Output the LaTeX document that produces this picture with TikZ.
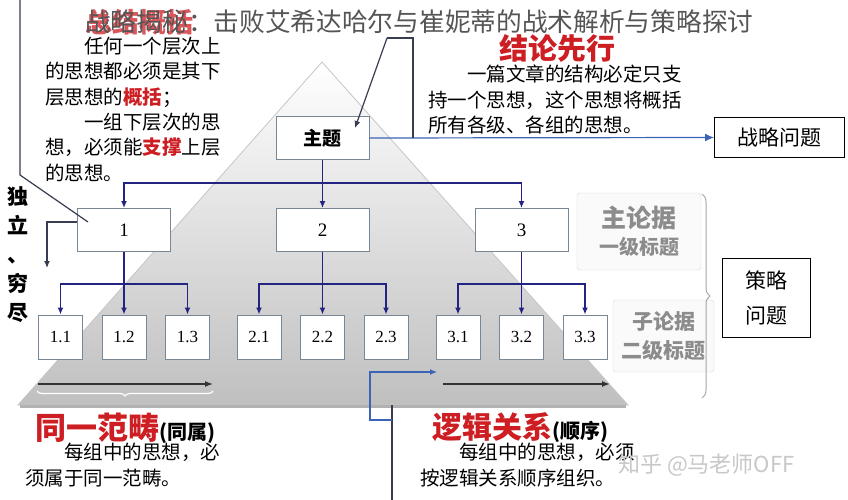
\documentclass[tikz,border=0pt]{standalone}
\usepackage{fontspec}
\setmainfont{Liberation Serif}
\newfontfamily\cjk{Noto Sans CJK SC}
\usepackage{tikz}
\usetikzlibrary{arrows.meta, decorations.pathreplacing, calc, positioning}

\definecolor{linkblue}{RGB}{35,35,130}
\definecolor{boxline}{RGB}{120,135,150}
\definecolor{headred}{RGB}{205,30,35}
\definecolor{tipblue}{RGB}{60,100,180}
\definecolor{darkline}{RGB}{55,60,80}
\definecolor{titlegray}{RGB}{85,85,85}
\definecolor{taggray}{RGB}{140,140,140}
\definecolor{markgray}{RGB}{200,200,200}

\begin{document}
\begin{tikzpicture}[x=1pt, y=-1pt,
    topic/.style={draw=boxline, line width=1pt, fill=white, minimum width=93pt,
      minimum height=43pt, inner sep=0pt, font=\fontsize{19}{22}\selectfont},
    subtopic/.style={draw=boxline, line width=1pt, fill=white, minimum width=44pt,
      minimum height=44pt, inner sep=0pt, font=\fontsize{17}{20}\selectfont},
    issue/.style={draw=black, line width=1pt, fill=white, inner sep=0pt,
      font=\cjk\fontsize{21}{35}\selectfont, align=center},
    tagbox/.style={draw=gray!30, fill=gray!4, rounded corners=3pt, align=center,
      inner sep=0pt, text=taggray},
    link/.style={draw=linkblue, line width=1.4pt, -{Latex[length=7pt,width=6pt]}},
    plain/.style={draw=darkline, line width=1.2pt},
    body/.style={anchor=north west, align=left, inner sep=0pt,
      font=\cjk\fontsize{19.5}{25.3}\selectfont},
    headline/.style={anchor=west, inner sep=0pt, text=headred, font=\cjk\bfseries}]

    \fill[white] (0,0) rectangle (848,500);
    \useasboundingbox (0,0) rectangle (848,500);

    % pyramid
    \shade[top color=white, middle color=gray!14, bottom color=gray!50]
        (322,62) -- (628,405) -- (18,405) -- cycle;
    \draw[gray!45, line width=0.8pt] (322,62) -- (628,405) -- (18,405) -- cycle;
    \draw[gray!60, line width=3pt] (20,406) -- (626,406);

    % headings and title
    \node[headline, text=headred!75, font=\cjk\bfseries\fontsize{27}{30}\selectfont] (sumhead) at (85,22) {总结概括};
    \node[anchor=west, inner sep=0pt, text=titlegray, font=\cjk\fontsize{25.7}{30}\selectfont]
        (title) at (85,22) {战略揭秘：击败艾希达哈尔与崔妮蒂的战术解析与策略探讨};
    \node[headline, font=\cjk\bfseries\fontsize{29}{33}\selectfont] (conhead) at (499,48) {结论先行};

    % text blocks
    \node[body] (sumtext) at (45,37) {\hspace{2em}任何一个层次上\\的思想都必须是其下\\
        层思想的\textcolor{headred}{\bfseries 概括}；\\\hspace{2em}一组下层次的思\\
        想，必须能\textcolor{headred}{\bfseries 支撑}上层\\的思想。};
    \node[body] (context) at (428,65) {\hspace{2em}一篇文章的结构必定只支\\
        持一个思想，这个思想将概括\\所有各级、各组的思想。};

    % boxes
    \node[topic, font=\cjk\bfseries\fontsize{19}{22}\selectfont] (topic) at (322.5,138) {主题};
    \foreach \i/\cx in {1/124,2/322.5,3/521.5} {
        \node[topic] (t\i) at (\cx,230) {\i};
        \foreach \j/\dx in {1/-63.5,2/0,3/63.5}
            \node[subtopic] (s\i\j) at (\cx+\dx,337) {\i.\j};
    }

    % connectors
    \draw[link] (topic) -- (t2);
    \draw[link] (topic.south) -- ++(0,23) -| (t1.north);
    \draw[link] (topic.south) -- ++(0,23) -| (t3.north);
    \foreach \i in {1,2,3} {
        \draw[link] (t\i) -- (s\i2);
        \draw[link] (t\i.south) -- ++(0,32) -| (s\i1.north);
        \draw[link] (t\i.south) -- ++(0,32) -| (s\i3.north);
    }

    % strategy issue
    \node[issue, minimum width=130pt, minimum height=39pt] (goal) at (779.5,137.5) {战略问题};
    \draw[plain, -{Latex[length=9pt,width=8pt]}, tipblue] (topic.east) -- (goal.west);
    \coordinate (hook) at (387,38);
    \coordinate (hookend) at (413,38);
    \draw[plain] (hook) -- (hookend) -- (hookend |- goal.west);
    \draw[plain, -{Latex[length=7pt,width=6pt]}] (hook) -- (355,128);

    % left side
    \coordinate (edge) at (20,0);
    \draw[plain] (edge) -- (20,175) -- (88,222);
    \draw[plain, -{Latex[length=7pt,width=6pt]}] (t1.west |- 0,222) -- (47,222) -- (47,268);
    \node[align=center, inner sep=0pt, font=\cjk\bfseries\fontsize{21}{29}\selectfont]
        (mece) at (18,255) {独\\立\\、\\穷\\尽};

    % levels on the right
    \node[tagbox, minimum width=124pt, minimum height=77pt] (lvone) at (639,231.5)
        {{\cjk\bfseries\fontsize{25}{28}\selectfont 主论据}\\[6pt]
         {\cjk\bfseries\fontsize{20}{24}\selectfont 一级标题}};
    \node[tagbox, minimum width=101pt, minimum height=72pt] (lvtwo) at (663.5,336)
        {{\cjk\bfseries\fontsize{21}{24}\selectfont 子论据}\\[8pt]
         {\cjk\bfseries\fontsize{21}{24}\selectfont 二级标题}};
    \draw[gray!70, line width=1pt, decorate, decoration={brace, amplitude=8pt}]
        (702,194) -- (702,398);
    \node[issue, minimum width=88pt, minimum height=79pt] (plan) at (766,297.5) {策略\\问题};

    % bottom arrows
    \coordinate (lfrom) at (38,384);
    \coordinate (lto) at (213,384);
    \draw[black!80, line width=1.4pt, -{Latex[length=8pt,width=6pt]}] (lfrom) -- (lto);
    \draw[white, line width=1.2pt, decorate, decoration={brace, mirror, amplitude=5pt}]
        (37,391) -- (213,391);
    \coordinate (rfrom) at (443,384);
    \coordinate (rto) at (610,384);
    \draw[black!80, line width=1.4pt, -{Latex[length=8pt,width=6pt]}] (rfrom) -- (rto);
    \coordinate (foot) at (392,500);
    \draw[plain] (foot) -- (392,405);
    \draw[plain, -{Latex[length=7pt,width=6pt]}, tipblue] (392,420) -- (370,420) -- (370,372) -- (437,372);

    % bottom texts
    \node[headline, font=\cjk\bfseries\fontsize{31}{34}\selectfont] (samehead) at (35,428)
        {同一范畴{\color{black}\fontsize{20}{24}\selectfont (同属)}};
    \node[body] (sametext) at (25,443) {\hspace{2em}每组中的思想，必\\须属于同一范畴。};
    \node[headline, font=\cjk\bfseries\fontsize{30}{34}\selectfont] (orderhead) at (432,428)
        {逻辑关系{\color{black}\fontsize{20}{24}\selectfont (顺序)}};
    \node[body] (ordertext) at (420,443) {\hspace{2em}每组中的思想，必须\\按逻辑关系顺序组织。};

    % watermark
    \node[anchor=west, inner sep=0pt, text=markgray, font=\cjk\fontsize{22}{26}\selectfont]
        (mark) at (618,465) {知乎 @马老师OFF};
\end{tikzpicture}
\end{document}
